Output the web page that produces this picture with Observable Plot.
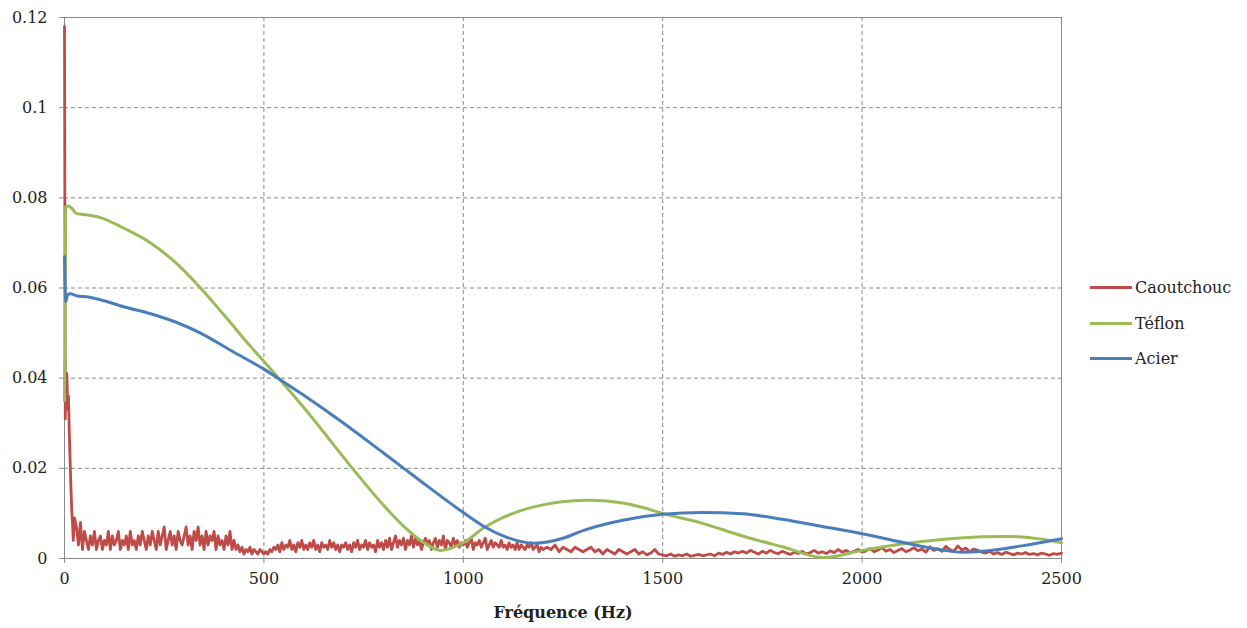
<!DOCTYPE html>
<html>
<head>
<meta charset="utf-8">
<script src="https://cdn.jsdelivr.net/npm/d3@7"></script>
<script src="https://cdn.jsdelivr.net/npm/@observablehq/plot@0.6"></script>
<style>
  html, body { margin: 0; padding: 0; background: white; }
  #wrap { position: relative; width: 1247px; height: 628px; }
  #legend { position: absolute; left: 1090px; top: 270px; font-family: "DejaVu Serif", serif; font-size: 16px; color: #222; }
  #legend .item { display: flex; align-items: center; height: 35.5px; }
  #legend .sw { width: 42px; height: 3px; margin-right: 3px; }
</style>
</head>
<body>
<div id="wrap"><div id="legend"></div></div>
<script>
// Series names and colours
const seriesNames = ["Caoutchouc", "Téflon", "Acier"];
const seriesColors = ["#BE4B48", "#9BBB59", "#4A7EBB"];
const xLabel = "Fréquence (Hz)";

// Axis ticks
const xTicks = [0, 500, 1000, 1500, 2000, 2500];
const yTicks = [0, 0.02, 0.04, 0.06, 0.08, 0.1, 0.12];

// Caoutchouc (noisy spectrum), values in thousandths (×0.001)
// dense start 0–25 Hz
const caoutchoucStartF = [0, 2, 4, 6, 8, 10, 12, 14, 16, 18, 20, 22, 25];
const caoutchoucStartMilli = [118, 31, 40, 41, 33, 36, 28, 22, 16, 11, 8, 4, 9];
// every 5 Hz from 30 to 1200
const caoutchoucMidF = d3.range(30, 1201, 5);
const caoutchoucMidMilli = [
  7,3,8,2,6,4,2,5,3,6,2,4,5,2,4,
  3,6,2,5,3,4,6,2,4,3,5,2,6,3,4,2,5,3,6,4,
  2,5,3,6,4,2,6,3,5,7,2,4,6,3,5,2,6,4,3,5,
  7,3,5,2,6,4,7,3,5,2,6,3,5,4,6,2,5,3,4,2,
  5,3,6,2,4,2,3,1.5,2.5,1,2,1.5,2.5,1,2,1.5,1,2,1.5,1,
  1.5,1,2,1.5,2.5,2,3,1.5,3.5,2,3,2.5,4,2,3,1.5,3.5,2.5,4,2,
  3,2,3.5,2.5,4,2,3,1.5,3.5,2.5,3,2,4,2.5,3.5,2,3,1.5,3,2.5,
  3.5,2,3,1.5,3.5,2.5,4,2,3,2.5,4,2,3.5,2.5,3,1.5,4,2.5,3.5,2,
  4,2.5,4.5,2,3.5,5,2.5,4,3,4.5,2,4,3,5,2.5,4.5,3,4,2,3.5,
  4.5,3,4,2,3.5,4.5,2.5,4,3,5,2,4,3.5,2.5,4.5,3,4,2.5,3.5,3,
  4,2.5,3.5,4.5,2,3.5,3,4,2.5,3.5,4.5,2,3,4,2.5,3.5,3,2.5,4,2.5,
  3,2,3.5,2.5,3,2,3.5,2,3,2.5,2,3,2.5,3.5,2,2.5,3,1.5,2.5,2
];
// every 10 Hz from 1210 to 2500
const caoutchoucEndF = d3.range(1210, 2501, 10);
const caoutchoucEndMilli = [
  2.5,2,3,1.5,2.5,2,1.5,2.5,2,1.5,
  2,2.5,1.5,2,1,2,1.5,1,2,1.5,
  1,1.5,2,1,1.5,0.8,1.2,2,1,0.8,
  0.6,1,0.5,0.8,0.6,1,0.5,0.7,0.9,0.6,
  0.8,1,0.6,1.2,0.9,1.4,1,1.5,1.2,1.6,
  1.2,1.8,1.4,1,1.6,1.2,1.8,1.3,1.1,1.6,
  1.2,0.9,1.4,1.1,1.6,1,1.3,1.8,1.2,1.5,
  1.1,1.7,1.3,2,1.4,1.8,1.2,1.6,2,1.4,
  1.7,2.2,1.5,1.9,2.4,1.6,2,1.3,1.8,2.2,
  1.5,1.9,2.4,1.7,2.1,1.4,2.6,1.8,2.2,1.6,
  2.7,2,1.6,2.8,1.9,2.3,1.5,2.1,1.8,1.4,
  1.2,1.6,1,1.3,0.9,1.4,1.1,0.8,1.2,1,
  1.3,0.9,1.1,0.8,1.2,1,0.7,1.1,0.9,1.2
];

// Téflon
const teflonF = [0, 3, 10, 20, 30, 50, 90, 150, 216, 280, 341, 400, 467, 542, 600, 650, 722, 800, 850, 900, 943, 1000, 1052, 1100, 1150, 1200, 1260, 1320, 1400, 1450, 1500, 1600, 1700, 1800, 1905, 2000, 2100, 2200, 2300, 2365, 2450, 2500];
const teflonV = [0.035, 0.078, 0.0782, 0.0775, 0.0765, 0.0763, 0.0756, 0.0732, 0.0700, 0.0655, 0.0600, 0.0540, 0.0470, 0.0395, 0.0335, 0.0280, 0.0200, 0.0118, 0.0072, 0.0036, 0.0018, 0.0035, 0.0068, 0.0091, 0.0108, 0.0119, 0.0127, 0.0129, 0.0123, 0.0113, 0.0100, 0.0078, 0.0050, 0.0026, 0.0002, 0.0018, 0.0032, 0.0042, 0.0048, 0.0049, 0.0043, 0.0035];

// Acier
const acierF = [0, 3, 8, 15, 30, 60, 90, 150, 216, 280, 341, 424, 500, 542, 600, 700, 800, 851, 900, 1000, 1052, 1100, 1177, 1250, 1300, 1400, 1500, 1600, 1700, 1800, 1900, 2000, 2100, 2200, 2250, 2300, 2400, 2500];
const acierV = [0.067, 0.057, 0.0585, 0.0587, 0.0583, 0.058, 0.0574, 0.0558, 0.0543, 0.0524, 0.0500, 0.0458, 0.0420, 0.0396, 0.0362, 0.0300, 0.0234, 0.0200, 0.0167, 0.0102, 0.0071, 0.0050, 0.0034, 0.0045, 0.0062, 0.0085, 0.0098, 0.0102, 0.0099, 0.0087, 0.0071, 0.0055, 0.0036, 0.0019, 0.0014, 0.0016, 0.0028, 0.0044];

// Build tables
function pairs(F, V, k) {
  const n = Math.min(F.length, V.length);
  return d3.range(n).map(i => ({f: F[i], v: V[i] * k}));
}
const red = pairs(caoutchoucStartF, caoutchoucStartMilli, 0.001)
  .concat(pairs(caoutchoucMidF, caoutchoucMidMilli, 0.001))
  .concat(pairs(caoutchoucEndF, caoutchoucEndMilli, 0.001));
const green = pairs(teflonF, teflonV, 1);
const blue = pairs(acierF, acierV, 1);

const gridStyle = {stroke: "#8a8a8a", strokeOpacity: 1, strokeDasharray: "4,3", strokeWidth: 1};

const chart = Plot.plot({
  width: 1247,
  height: 628,
  marginLeft: 64,
  marginRight: 186,
  marginTop: 17,
  marginBottom: 70,
  x: {domain: [0, 2500]},
  y: {domain: [0, 0.12]},
  style: {fontFamily: "DejaVu Serif, serif", fontSize: "16px", color: "#222", background: "white", overflow: "visible"},
  marks: [
    Plot.gridY(yTicks.slice(1, -1), gridStyle),
    Plot.gridX(xTicks.slice(1, -1), gridStyle),
    Plot.frame({stroke: "#8a8a8a", strokeWidth: 1}),
    Plot.line(red, {x: "f", y: "v", stroke: seriesColors[0], strokeWidth: 2.8}),
    Plot.line(green, {x: "f", y: "v", stroke: seriesColors[1], strokeWidth: 3, curve: "monotone-x"}),
    Plot.line(blue, {x: "f", y: "v", stroke: seriesColors[2], strokeWidth: 3, curve: "monotone-x"}),
    Plot.axisY({ticks: yTicks, tickFormat: d => String(+d.toFixed(4)), tickSize: 5, tickPadding: 12, stroke: "#8a8a8a", label: null}),
    Plot.axisX({ticks: xTicks, tickFormat: d => String(d), tickSize: 5, tickPadding: 9, stroke: "#8a8a8a", label: null}),
    Plot.text([xLabel], {text: d => d, frameAnchor: "bottom", dy: 59, fontWeight: "bold", fontSize: 16, fill: "#222"})
  ]
});
document.getElementById("wrap").prepend(chart);

const legend = document.getElementById("legend");
seriesNames.forEach((name, i) => {
  const item = document.createElement("div");
  item.className = "item";
  const sw = document.createElement("span");
  sw.className = "sw";
  sw.style.background = seriesColors[i];
  const t = document.createElement("span");
  t.textContent = name;
  item.appendChild(sw);
  item.appendChild(t);
  legend.appendChild(item);
});
</script>
</body>
</html>
